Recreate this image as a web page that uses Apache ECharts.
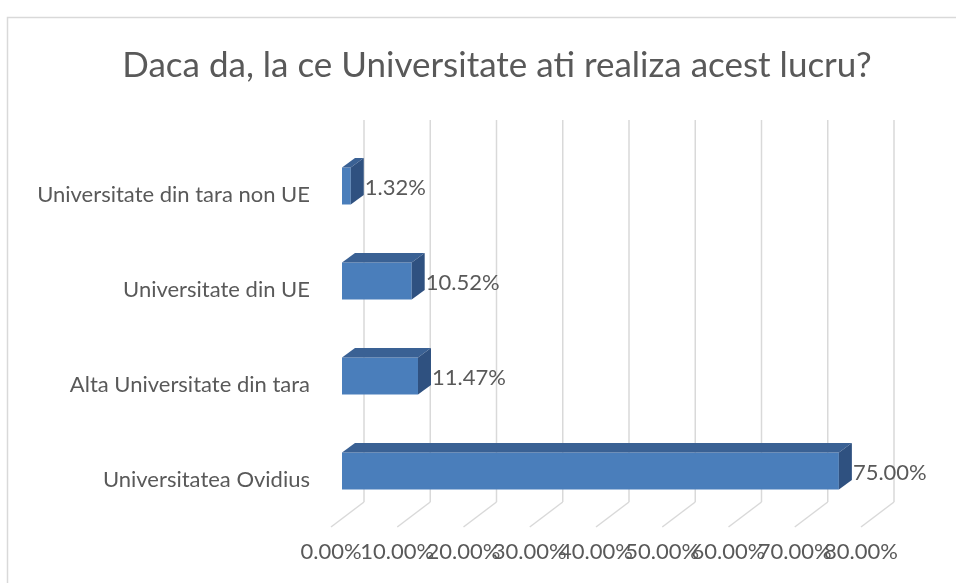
<!DOCTYPE html>
<html>
<head>
<meta charset="utf-8">
<script src="https://cdn.jsdelivr.net/npm/echarts@6/dist/echarts.min.js"></script>
<style>
  html, body { margin: 0; padding: 0; background: #fff; }
  #chart { width: 956px; height: 583px; }
</style>
</head>
<body>
<div id="chart"></div>
<script>
// date
var categories = ['Universitatea Ovidius', 'Alta Universitate din tara', 'Universitate din UE', 'Universitate din tara non UE'];
var values = [75.00, 11.47, 10.52, 1.32];
var ticks = [0, 10, 20, 30, 40, 50, 60, 70, 80];

var FONT = 'Lato';
var TXT = '#595959';

var myChart = echarts.init(document.getElementById('chart'));

// bara 3D: fata, capac, lateral
function renderBar(params, api) {
  var cat = api.value(0);
  var val = api.value(1);
  var p0 = api.coord([0, cat]);
  var p1 = api.coord([val, cat]);
  var x0 = p0[0] + 11, x1 = p1[0] + 11;
  var yc = p0[1] - 8.5;
  var top = yc - 18.5, bot = yc + 18.5;
  var dx = 13, dy = -9.5;
  return {
    type: 'group',
    children: [
      { type: 'rect', shape: { x: x0, y: top, width: x1 - x0, height: bot - top },
        style: { fill: '#4a7ebb' } },
      { type: 'polygon', shape: { points: [[x0, top], [x0 + dx, top + dy], [x1 + dx, top + dy], [x1, top]] },
        style: { fill: '#3a6194' } },
      { type: 'polygon', shape: { points: [[x1, top], [x1 + dx, top + dy], [x1 + dx, bot + dy], [x1, bot]] },
        style: { fill: '#2f5180' } },
      { type: 'text', style: { text: val.toFixed(2) + '%', x: x1 + dx + 1, y: yc + 2,
          textVerticalAlign: 'middle', textAlign: 'left', fill: TXT, font: '22px ' + FONT } }
    ]
  };
}

// linii de grila in perspectiva (podea + perete spate) + etichete axa X
// (etichetele se suprapun ca in original, deci nu le las pe axa sa le ascunda)
function renderGrid(params, api) {
  var v = api.value(0);
  var x = api.coord([v, 0])[0];
  var cs = params.coordSys;
  var bottom = cs.y + cs.height;
  var ddx = 33, ddy = -25;
  var st = { stroke: '#d9d9d9', lineWidth: 1.5 };
  return {
    type: 'group',
    children: [
      { type: 'line', shape: { x1: x, y1: bottom, x2: x + ddx, y2: bottom + ddy }, style: st },
      { type: 'line', shape: { x1: x + ddx, y1: bottom + ddy, x2: x + ddx, y2: cs.y - 27 }, style: st },
      { type: 'text', style: { text: v.toFixed(2) + '%', x: x, y: bottom + 25,
          textAlign: 'center', textVerticalAlign: 'middle', fill: TXT, font: '22px ' + FONT } }
    ]
  };
}

var option = {
  backgroundColor: '#fff',
  animation: false,
  title: {
    text: 'Daca da, la ce Universitate ati realiza acest lucru?',
    left: 492,
    top: 43,
    textAlign: 'center',
    textStyle: { fontFamily: FONT, fontSize: 35, fontWeight: 'normal', color: TXT }
  },
  graphic: [{
    type: 'rect', left: 5, top: 15,
    shape: { width: 960, height: 580 },
    style: { fill: 'none', stroke: '#d9d9d9', lineWidth: 1.5 },
    silent: true
  }],
  grid: { left: 331, right: 95, top: 147, height: 380, containLabel: false },
  xAxis: {
    type: 'value', min: 0, max: 80, interval: 10,
    axisLine: { show: false }, axisTick: { show: false }, splitLine: { show: false },
    axisLabel: { show: false }
  },
  yAxis: {
    type: 'category', data: categories,
    axisLine: { show: false }, axisTick: { show: false },
    axisLabel: { margin: 21, color: TXT, fontFamily: FONT, fontSize: 22 }
  },
  series: [
    {
      type: 'custom', renderItem: renderGrid, z: 1, silent: true,
      data: ticks.map(function (t) { return [t, 0]; }),
      encode: { x: 0, y: 1 }
    },
    {
      type: 'custom', renderItem: renderBar, z: 2,
      data: values.map(function (v, i) { return [i, v]; }),
      encode: { x: 1, y: 0 }
    }
  ]
};

myChart.setOption(option);
</script>
</body>
</html>
